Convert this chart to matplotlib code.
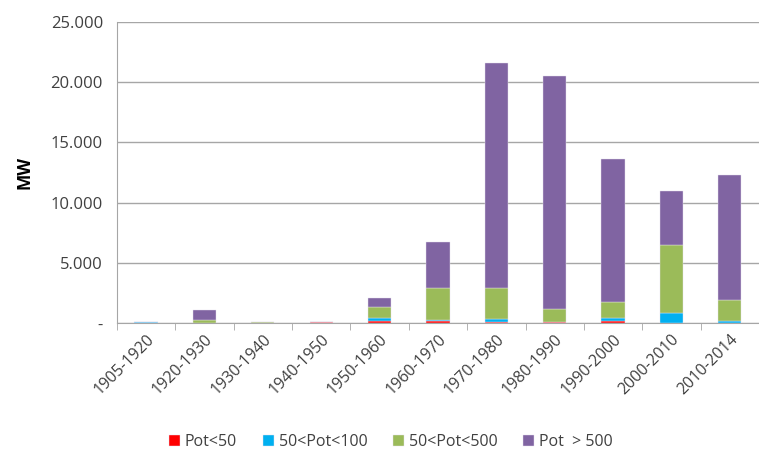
import numpy as np
import matplotlib.pyplot as plt
from matplotlib.ticker import FuncFormatter

periods = ['1905-1920', '1920-1930', '1930-1940', '1940-1950', '1950-1960',
           '1960-1970', '1970-1980', '1980-1990', '1990-2000', '2000-2010', '2010-2014']

# MW installed per power class
pot_lt_50 = [0, 30, 0, 140, 170, 170, 80, 100, 170, 50, 0]
pot_50_100 = [140, 0, 0, 0, 240, 130, 250, 20, 290, 830, 220]
pot_50_500 = [0, 220, 130, 0, 960, 2600, 2570, 1100, 1330, 5610, 1740]
pot_gt_500 = [0, 830, 0, 0, 730, 3810, 18640, 19290, 11800, 4500, 10300]

series = [(pot_lt_50, '#FF0000', 'Pot<50'),
          (pot_50_100, '#00B0F0', '50<Pot<100'),
          (pot_50_500, '#9BBB59', '50<Pot<500'),
          (pot_gt_500, '#8064A2', 'Pot  > 500')]

plt.rcParams['font.family'] = ['Open Sans', 'DejaVu Sans']

fig = plt.figure(figsize=(7.59, 4.51), dpi=100)
ax = fig.add_axes([0.154, 0.283, 0.846, 0.669])

x = np.arange(len(periods))
bottom = np.zeros(len(periods))
for vals, color, label in series:
    vals = np.array(vals, dtype=float)
    ax.bar(x, vals, 0.4, bottom=bottom, color=color, label=label,
           edgecolor='#e6e0ee', linewidth=0.3, zorder=3)
    bottom += vals

ax.set_xlim(-0.5, len(periods) - 0.5)
ax.set_ylim(0, 25000)
ax.set_yticks(np.arange(0, 25001, 5000))
ax.yaxis.set_major_formatter(FuncFormatter(
    lambda v, p: '-' if v == 0 else f'{int(v):,}'.replace(',', '.')))
ax.grid(axis='y', color='#a6a6a6', linewidth=1, zorder=0)
ax.set_xticks(x)
ax.set_xticklabels(periods, rotation=45, ha='right', rotation_mode='anchor')
ax.set_xticks(np.arange(-0.5, len(periods), 1), minor=True)
ax.tick_params(axis='x', which='major', length=0, labelsize=11.5, pad=6, colors='#404040')
ax.tick_params(axis='x', which='minor', length=5, color='#a6a6a6')
ax.tick_params(axis='y', length=0, labelsize=12, pad=10, colors='#404040')
for s in ['top', 'right']:
    ax.spines[s].set_visible(False)
ax.spines['left'].set_color('#a6a6a6')
ax.spines['bottom'].set_color('#a6a6a6')
ax.spines['bottom'].set_zorder(1)
ax.set_ylabel('MW', fontsize=12.5, fontweight='bold', labelpad=12)

fig.legend(loc='lower center', bbox_to_anchor=(0.515, -0.03), ncol=4, frameon=False,
           handlelength=0.7, handleheight=0.7, handletextpad=0.3, columnspacing=1.6,
           fontsize=11.5, labelcolor='#404040')

fig.savefig('out.png', dpi=100)
